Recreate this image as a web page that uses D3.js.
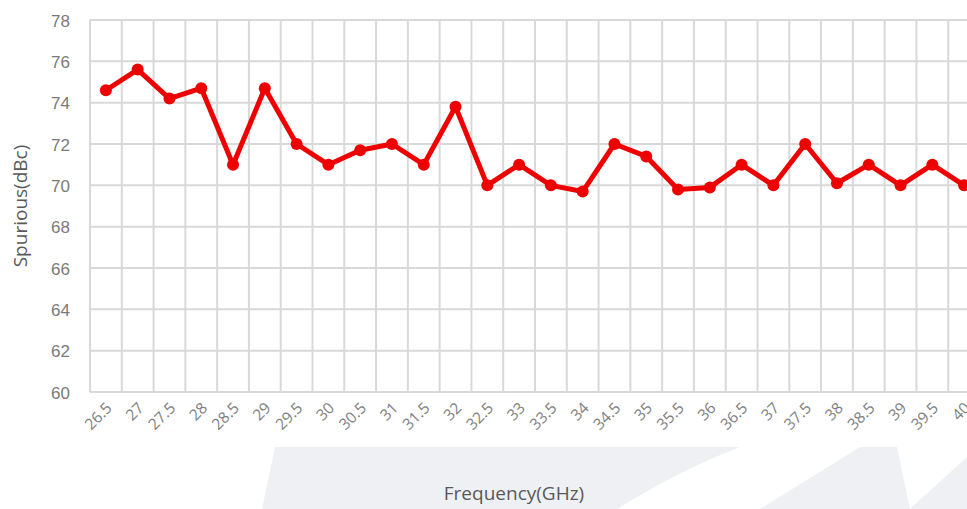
<!DOCTYPE html>
<html>
<head>
<meta charset="utf-8">
<script src="https://cdn.jsdelivr.net/npm/d3@7"></script>
<style>
  html, body { margin: 0; padding: 0; background: #fff; }
  svg { display: block; }
</style>
</head>
<body>
<svg id="chart" width="967" height="509"></svg>
<script>
const categories = ["26.5","27","27.5","28","28.5","29","29.5","30","30.5","31","31.5","32","32.5","33","33.5","34","34.5","35","35.5","36","36.5","37","37.5","38","38.5","39","39.5","40"];
const spurious = [74.6,75.6,74.2,74.7,71.0,74.7,72.0,71.0,71.7,72.0,71.0,73.8,70.0,71.0,70.0,69.7,72.0,71.4,69.8,69.9,71.0,70.0,72.0,70.1,71.0,70.0,71.0,70.0];
const yTicks = [60,62,64,66,68,70,72,74,76,78];

const svg = d3.select("#chart");
const m = { left: 90, right: 980, top: 20, bottom: 392 };

// background watermark shapes
const bg = svg.append("g");
bg.append("path").attr("d", "M275,447 L967,447 L967,509 L262,509 Z").attr("fill", "#eff0f4");
bg.append("path").attr("d", "M740,447 L860,447 L760,509 L617,509 Q680,470 740,447 Z").attr("fill", "#fff");
bg.append("path").attr("d", "M897,447 L967,447 L967,457 L910,509 Z").attr("fill", "#fff");

const x = d3.scaleBand().domain(categories).range([m.left, m.right]).padding(0);
const y = d3.scaleLinear().domain([60, 78]).range([m.bottom, m.top]);

const grid = svg.append("g").attr("stroke", "#d9d9d9").attr("stroke-width", 2);
yTicks.forEach(t => {
  grid.append("line").attr("x1", m.left).attr("x2", m.right).attr("y1", y(t)).attr("y2", y(t));
});
categories.forEach(c => {
  grid.append("line").attr("x1", x(c)).attr("x2", x(c)).attr("y1", m.top).attr("y2", m.bottom);
});
grid.append("line").attr("x1", m.right).attr("x2", m.right).attr("y1", m.top).attr("y2", m.bottom);

// y axis labels
const yAxis = d3.axisLeft(y).tickValues(yTicks).tickSize(0).tickPadding(0);
const ya = svg.append("g").attr("transform", `translate(70,0)`).call(yAxis);
ya.select(".domain").remove();
ya.selectAll("text").attr("font-family", "'Liberation Sans', Arial, sans-serif").attr("font-size", 17).attr("fill", "#7a7a7a").attr("dy", "0.36em");

// x axis labels
const xAxis = d3.axisBottom(x).tickSize(0).tickPadding(0);
const xa = svg.append("g").attr("transform", `translate(0,${m.bottom})`).call(xAxis);
xa.select(".domain").remove();
xa.selectAll("text")
  .attr("font-family", "'Open Sans', sans-serif").attr("font-size", 15.5).attr("fill", "#808080")
  .attr("text-anchor", "end").attr("dy", "0")
  .attr("transform", "translate(7,17) rotate(-45)");

// line
const line = d3.line().x((d, i) => x(categories[i]) + x.bandwidth() / 2).y(d => y(d));
svg.append("path").datum(spurious).attr("d", line)
  .attr("fill", "none").attr("stroke", "#ee0000").attr("stroke-width", 5).attr("stroke-linejoin", "round");
svg.append("g").selectAll("circle").data(spurious).join("circle")
  .attr("cx", (d, i) => x(categories[i]) + x.bandwidth() / 2)
  .attr("cy", d => y(d)).attr("r", 6).attr("fill", "#ee0000");

// titles
svg.append("text").attr("transform", `translate(27,206) rotate(-90)`).attr("text-anchor", "middle")
  .attr("font-family", "'Open Sans', sans-serif").attr("font-size", 19).attr("fill", "#595959")
  .text("Spurious(dBc)");
svg.append("text").attr("x", 514).attr("y", 500).attr("text-anchor", "middle")
  .attr("font-family", "'Open Sans', sans-serif").attr("font-size", 19).attr("fill", "#595959")
  .text("Frequency(GHz)");
</script>
</body>
</html>
